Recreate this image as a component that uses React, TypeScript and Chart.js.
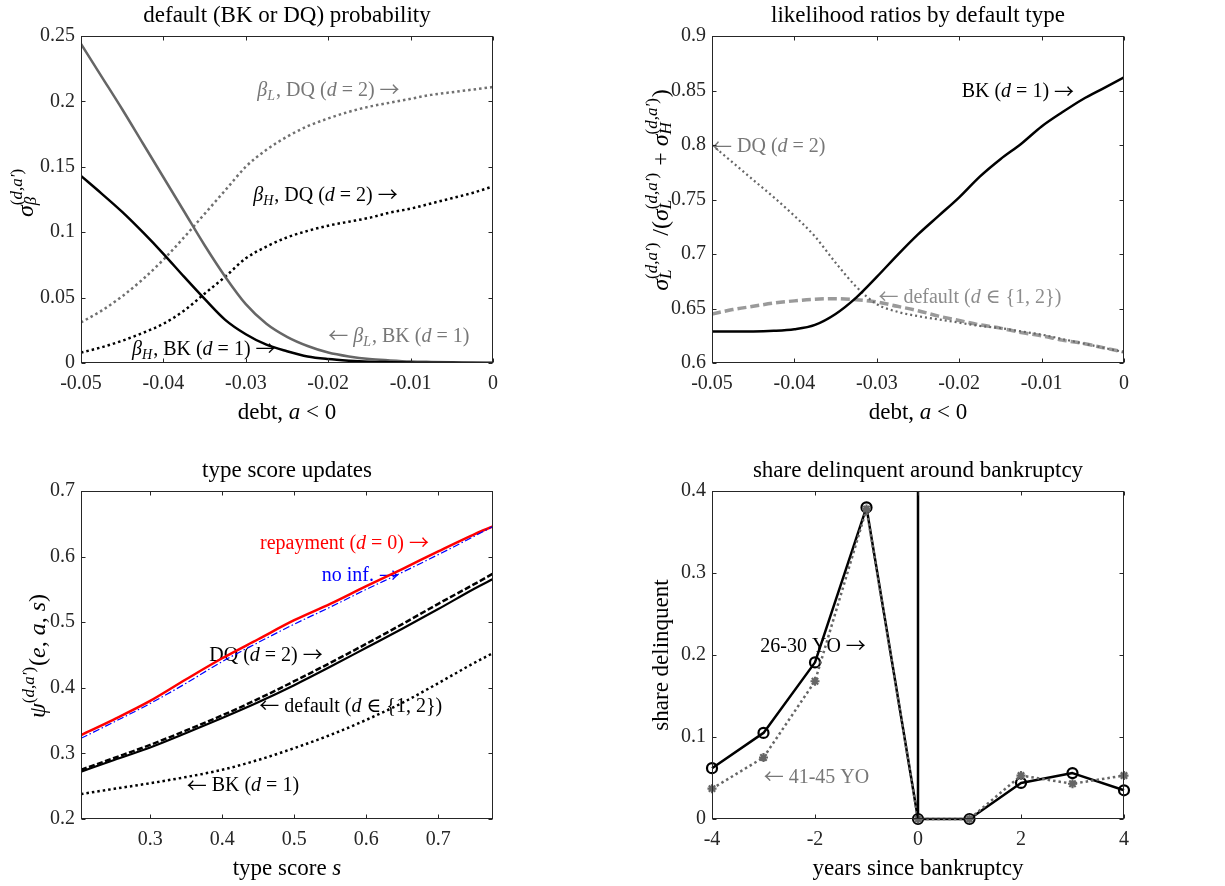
import React, { useEffect, useRef } from "react";
import { Chart, registerables } from "chart.js";
Chart.register(...registerables);

const SERIF = '"Liberation Serif", "DejaVu Serif", serif';
const ARROW_FONT = '"Noto Sans CJK JP", "DejaVu Sans", sans-serif';
const AXIS = "#262626";

// ---------- Panel 1: default probability ----------
const debtX = [-0.05, -0.0475, -0.045, -0.0425, -0.04, -0.0375, -0.035, -0.0325, -0.03, -0.0275, -0.025, -0.0225, -0.02, -0.0175, -0.015, -0.0125, -0.01, -0.0075, -0.005, -0.0025, 0];
const probLowBK = [0.244, 0.219, 0.194, 0.168, 0.142, 0.116, 0.09, 0.066, 0.045, 0.03, 0.02, 0.013, 0.008, 0.005, 0.003, 0.002, 0.0012, 0.0008, 0.0005, 0.0003, 0.0002];
const probHighBK = [0.143, 0.1295, 0.1155, 0.1, 0.0835, 0.066, 0.049, 0.033, 0.022, 0.014, 0.009, 0.005, 0.003, 0.0018, 0.001, 0.0006, 0.0003, 0.0001, 0.0001, 0, 0];
const probLowDQ = [0.031, 0.04, 0.051, 0.064, 0.079, 0.096, 0.114, 0.132, 0.15, 0.163, 0.173, 0.181, 0.187, 0.192, 0.196, 0.199, 0.202, 0.205, 0.207, 0.209, 0.211];
const probHighDQ = [0.008, 0.012, 0.017, 0.023, 0.03, 0.04, 0.053, 0.066, 0.08, 0.089, 0.096, 0.101, 0.105, 0.108, 0.111, 0.115, 0.118, 0.122, 0.126, 0.13, 0.135];
const debtTicks = [-0.05, -0.04, -0.03, -0.02, -0.01, 0];
const debtTickLabels = ["-0.05", "-0.04", "-0.03", "-0.02", "-0.01", "0"];
const probTicks = [0, 0.05, 0.1, 0.15, 0.2, 0.25];
const probTickLabels = ["0", "0.05", "0.1", "0.15", "0.2", "0.25"];

// ---------- Panel 2: likelihood ratios ----------
const ratioBK = [0.629, 0.629, 0.629, 0.6295, 0.631, 0.635, 0.645, 0.66, 0.679, 0.699, 0.718, 0.735, 0.752, 0.771, 0.787, 0.801, 0.817, 0.83, 0.842, 0.852, 0.862];
const ratioDQ = [0.8, 0.784, 0.768, 0.752, 0.735, 0.716, 0.692, 0.67, 0.654, 0.647, 0.643, 0.64, 0.637, 0.634, 0.632, 0.629, 0.626, 0.622, 0.618, 0.614, 0.61];
const ratioDefault = [0.645, 0.649, 0.652, 0.655, 0.657, 0.6585, 0.659, 0.658, 0.656, 0.652, 0.648, 0.643, 0.639, 0.635, 0.632, 0.628, 0.625, 0.621, 0.618, 0.614, 0.61];
const ratioTicks = [0.6, 0.65, 0.7, 0.75, 0.8, 0.85, 0.9];
const ratioTickLabels = ["0.6", "0.65", "0.7", "0.75", "0.8", "0.85", "0.9"];

// ---------- Panel 3: type score updates ----------
const scoreX = [0.204, 0.25, 0.3, 0.35, 0.4, 0.45, 0.5, 0.55, 0.6, 0.65, 0.7, 0.75, 0.776];
const updRepay = [0.328, 0.352, 0.38, 0.413, 0.445, 0.474, 0.503, 0.528, 0.555, 0.581, 0.608, 0.634, 0.646];
const updNoInf = [0.323, 0.348, 0.376, 0.407, 0.44, 0.469, 0.497, 0.523, 0.55, 0.576, 0.603, 0.631, 0.646];
const updDQ = [0.275, 0.293, 0.313, 0.335, 0.358, 0.383, 0.41, 0.438, 0.467, 0.497, 0.528, 0.558, 0.574];
const updDefault = [0.272, 0.29, 0.309, 0.331, 0.354, 0.378, 0.404, 0.432, 0.461, 0.49, 0.52, 0.551, 0.566];
const updBK = [0.238, 0.246, 0.2545, 0.264, 0.275, 0.29, 0.308, 0.328, 0.351, 0.377, 0.407, 0.438, 0.453];
const scoreTicks = [0.3, 0.4, 0.5, 0.6, 0.7];
const scoreTickLabels = ["0.3", "0.4", "0.5", "0.6", "0.7"];
const updTicks = [0.2, 0.3, 0.4, 0.5, 0.6, 0.7];
const updTickLabels = ["0.2", "0.3", "0.4", "0.5", "0.6", "0.7"];

// ---------- Panel 4: share delinquent ----------
const years = [-4, -3, -2, -1, 0, 1, 2, 3, 4];
const delinq2630 = [0.062, 0.105, 0.191, 0.38, 0, 0, 0.044, 0.056, 0.035];
const delinq4145 = [0.037, 0.075, 0.168, 0.378, 0, 0, 0.053, 0.043, 0.053];
const bankruptcyX = [0, 0];
const bankruptcyY = [0, 0.4];
const yearTicks = [-4, -2, 0, 2, 4];
const yearTickLabels = ["-4", "-2", "0", "2", "4"];
const delinqTicks = [0, 0.1, 0.2, 0.3, 0.4];
const delinqTickLabels = ["0", "0.1", "0.2", "0.3", "0.4"];

type Seg = { t: string; i?: boolean; pos?: "sub" | "sup"; arrow?: boolean };

function splitArrows(segs: Seg[]): Seg[] {
  const out: Seg[] = [];
  for (const s of segs) {
    if (s.pos) {
      out.push(s);
      continue;
    }
    const parts = s.t.split(/([←→])/);
    for (const p of parts) {
      if (!p) continue;
      if (p === "←" || p === "→") out.push({ t: p, arrow: true });
      else out.push({ ...s, t: p });
    }
  }
  return out;
}

function drawRich(ctx: CanvasRenderingContext2D, segsIn: Seg[], x: number, y: number, size: number, color: string, align: "left" | "center", subDrop = 0.2) {
  const segs = splitArrows(segsIn);
  const small = Math.round(size * 0.7);
  const font = (s: Seg) => {
    if (s.arrow) return `${Math.round(size * 1.0)}px ${ARROW_FONT}`;
    return `${s.i ? "italic " : ""}${s.pos ? small : size}px ${SERIF}`;
  };
  const items: { s: Seg; x: number; dy: number }[] = [];
  let cursor = 0;
  let inRun = false;
  let subC = 0;
  let supC = 0;
  for (const s of segs) {
    ctx.font = font(s);
    const w = ctx.measureText(s.t).width;
    if (s.pos) {
      if (!inRun) {
        inRun = true;
        subC = cursor;
        supC = cursor;
      }
      if (s.pos === "sub") {
        items.push({ s, x: subC, dy: size * subDrop });
        subC += w;
      } else {
        items.push({ s, x: supC, dy: -size * 0.45 });
        supC += w;
      }
    } else {
      if (inRun) {
        cursor = Math.max(subC, supC) + 1;
        inRun = false;
      }
      items.push({ s, x: cursor, dy: s.arrow ? size * 0.06 : 0 });
      cursor += w;
    }
  }
  if (inRun) cursor = Math.max(subC, supC);
  const off = align === "center" ? -cursor / 2 : 0;
  ctx.fillStyle = color;
  ctx.textAlign = "left";
  ctx.textBaseline = "alphabetic";
  for (const it of items) {
    ctx.font = font(it.s);
    ctx.fillText(it.s.t, x + off + it.x, y + it.dy);
  }
}

type Ann = { x: number; y: number; segs: Seg[]; color: string };

type Spec = {
  left: number;
  top: number;
  W: number;
  H: number;
  area: [number, number, number, number];
  xr: [number, number];
  yr: [number, number];
  xTicks: number[];
  xLabels: string[];
  yTicks: number[];
  yLabels: string[];
  smooth: boolean;
  datasets: any[];
  anns: Ann[];
  title: string;
  xTitle: Seg[];
  yTitle: Seg[];
  yTitleX: number;
  yTitleY: number;
  yTitleSize: number;
};

function xy(xs: number[], ys: number[]) {
  return xs.map((x, i) => ({ x, y: ys[i] }));
}

const dotted = [2.5, 3];

const d = (t: string): Seg => ({ t, i: true });
const n = (t: string): Seg => ({ t });

const specs: Spec[] = [
  {
    left: 0, top: 0, W: 612, H: 443,
    area: [81, 36, 493, 363],
    xr: [-0.05, 0], yr: [0, 0.25],
    xTicks: debtTicks, xLabels: debtTickLabels, yTicks: probTicks, yLabels: probTickLabels,
    smooth: true,
    datasets: [
      { data: xy(debtX, probHighBK), borderColor: "#000", borderWidth: 2.5 },
      { data: xy(debtX, probLowBK), borderColor: "#666666", borderWidth: 2.5 },
      { data: xy(debtX, probHighDQ), borderColor: "#000", borderWidth: 2.5, borderDash: dotted },
      { data: xy(debtX, probLowDQ), borderColor: "#707070", borderWidth: 2.5, borderDash: dotted },
    ],
    anns: [
      { x: -0.0286, y: 0.2045, color: "#777777", segs: [d("β"), { t: "L", i: true, pos: "sub" }, n(", DQ ("), d("d"), n(" = 2) →")] },
      { x: -0.0291, y: 0.1242, color: "#000", segs: [d("β"), { t: "H", i: true, pos: "sub" }, n(", DQ ("), d("d"), n(" = 2) →")] },
      { x: -0.02, y: 0.0162, color: "#777777", segs: [n("← "), d("β"), { t: "L", i: true, pos: "sub" }, n(", BK ("), d("d"), n(" = 1)")] },
      { x: -0.0438, y: 0.006, color: "#000", segs: [d("β"), { t: "H", i: true, pos: "sub" }, n(", BK ("), d("d"), n(" = 1) →")] },
    ],
    title: "default (BK or DQ) probability",
    xTitle: [n("debt, "), d("a"), n(" < 0")],
    yTitle: [d("σ"), { t: "β", i: true, pos: "sub" }, { t: "(", pos: "sup" }, { t: "d,a′", i: true, pos: "sup" }, { t: ")", pos: "sup" }],
    yTitleX: 33, yTitleY: 193, yTitleSize: 24,
  },
  {
    left: 612, top: 0, W: 613, H: 443,
    area: [100, 36, 512, 363],
    xr: [-0.05, 0], yr: [0.6, 0.9],
    xTicks: debtTicks, xLabels: debtTickLabels, yTicks: ratioTicks, yLabels: ratioTickLabels,
    smooth: true,
    datasets: [
      { data: xy(debtX, ratioBK), borderColor: "#000", borderWidth: 2.5 },
      { data: xy(debtX, ratioDQ), borderColor: "#666666", borderWidth: 2.2, borderDash: [2, 3] },
      { data: xy(debtX, ratioDefault), borderColor: "#9a9a9a", borderWidth: 3.5, borderDash: [9, 4] },
    ],
    anns: [
      { x: -0.0197, y: 0.8436, color: "#000", segs: [n("BK ("), d("d"), n(" = 1) →")] },
      { x: -0.05, y: 0.7933, color: "#777777", segs: [n("← DQ ("), d("d"), n(" = 2)")] },
      { x: -0.0298, y: 0.6549, color: "#8c8c8c", segs: [n("← default ("), d("d"), n(" ∈ {1, 2})")] },
    ],
    title: "likelihood ratios by default type",
    xTitle: [n("debt, "), d("a"), n(" < 0")],
    yTitle: [
      d("σ"), { t: "L", i: true, pos: "sub" }, { t: "(", pos: "sup" }, { t: "d,a′", i: true, pos: "sup" }, { t: ")", pos: "sup" },
      n(" /("),
      d("σ"), { t: "L", i: true, pos: "sub" }, { t: "(", pos: "sup" }, { t: "d,a′", i: true, pos: "sup" }, { t: ")", pos: "sup" },
      n(" + "),
      d("σ"), { t: "H", i: true, pos: "sub" }, { t: "(", pos: "sup" }, { t: "d,a′", i: true, pos: "sup" }, { t: ")", pos: "sup" },
      n(")"),
    ],
    yTitleX: 56, yTitleY: 190, yTitleSize: 24,
  },
  {
    left: 0, top: 443, W: 612, H: 443,
    area: [81, 48, 493, 376],
    xr: [0.204, 0.776], yr: [0.2, 0.7],
    xTicks: scoreTicks, xLabels: scoreTickLabels, yTicks: updTicks, yLabels: updTickLabels,
    smooth: true,
    datasets: [
      { data: xy(scoreX, updNoInf), borderColor: "#0000ff", borderWidth: 1.2, borderDash: [7, 2.5, 1.5, 2.5] },
      { data: xy(scoreX, updRepay), borderColor: "#ff0000", borderWidth: 2.5 },
      { data: xy(scoreX, updDQ), borderColor: "#000", borderWidth: 2.5, borderDash: [6, 2.5] },
      { data: xy(scoreX, updDefault), borderColor: "#000", borderWidth: 2.2 },
      { data: xy(scoreX, updBK), borderColor: "#000", borderWidth: 2.5, borderDash: dotted },
    ],
    anns: [
      { x: 0.4525, y: 0.6116, color: "#ff0000", segs: [n("repayment ("), d("d"), n(" = 0) →")] },
      { x: 0.5382, y: 0.5623, color: "#0000ff", segs: [n("no inf. →")] },
      { x: 0.3821, y: 0.4404, color: "#000", segs: [n("DQ ("), d("d"), n(" = 2) →")] },
      { x: 0.4516, y: 0.3627, color: "#000", segs: [n("← default ("), d("d"), n(" ∈ {1, 2})")] },
      { x: 0.3507, y: 0.2422, color: "#000", segs: [n("← BK ("), d("d"), n(" = 1)")] },
    ],
    title: "type score updates",
    xTitle: [n("type score "), d("s")],
    yTitle: [d("ψ"), { t: "(", pos: "sup" }, { t: "d,a′", i: true, pos: "sup" }, { t: ")", pos: "sup" }, n("("), d("e"), n(", "), d("a"), n(", "), d("s"), n(")")],
    yTitleX: 45, yTitleY: 213, yTitleSize: 24,
  },
  {
    left: 612, top: 443, W: 613, H: 443,
    area: [100, 48, 512, 376],
    xr: [-4, 4], yr: [0, 0.4],
    xTicks: yearTicks, xLabels: yearTickLabels, yTicks: delinqTicks, yLabels: delinqTickLabels,
    smooth: false,
    datasets: [
      { data: xy(bankruptcyX, bankruptcyY), borderColor: "#000", borderWidth: 2.5, clip: false },
      {
        data: xy(years, delinq4145), borderColor: "#666666", borderWidth: 2.5, borderDash: dotted, clip: false,
        pointStyle: "star", pointRadius: 4.5, pointBorderWidth: 2.2, pointBorderColor: "#666666", pointBackgroundColor: "#666666",
      },
      {
        data: xy(years, delinq2630), borderColor: "#000", borderWidth: 2.5, clip: false,
        pointStyle: "circle", pointRadius: 5, pointBorderWidth: 2.2, pointBorderColor: "#000", pointBackgroundColor: "rgba(0,0,0,0)",
      },
    ],
    anns: [
      { x: -3.062, y: 0.2033, color: "#000", segs: [n("26-30 YO →")] },
      { x: -2.996, y: 0.0439, color: "#777777", segs: [n("← 41-45 YO")] },
    ],
    title: "share delinquent around bankruptcy",
    xTitle: [n("years since bankruptcy")],
    yTitle: [n("share delinquent")],
    yTitleX: 56, yTitleY: 212, yTitleSize: 23,
  },
];

function makePlugin(spec: Spec) {
  return {
    id: "panelDecor",
    beforeDatasetsDraw(chart: any) {
      const ctx: CanvasRenderingContext2D = chart.ctx;
      const xs = chart.scales.x;
      const ys = chart.scales.y;
      ctx.save();
      for (const a of spec.anns) {
        drawRich(ctx, a.segs, xs.getPixelForValue(a.x), ys.getPixelForValue(a.y), 20, a.color, "left");
      }
      ctx.restore();
    },
    afterDraw(chart: any) {
      const ctx: CanvasRenderingContext2D = chart.ctx;
      const { left, right, top, bottom } = chart.chartArea;
      const xs = chart.scales.x;
      const ys = chart.scales.y;
      ctx.save();
      ctx.strokeStyle = AXIS;
      ctx.lineWidth = 1;
      ctx.setLineDash([]);
      const L = Math.round(left) + 0.5;
      const R = Math.round(right) - 0.5;
      const T = Math.round(top) + 0.5;
      const B = Math.round(bottom) - 0.5;
      ctx.strokeRect(L, T, R - L, B - T);
      const tl = 4;
      ctx.beginPath();
      for (const t of xs.ticks) {
        const p = Math.round(xs.getPixelForValue(t.value)) + 0.5;
        ctx.moveTo(p, B);
        ctx.lineTo(p, B - tl);
        ctx.moveTo(p, T);
        ctx.lineTo(p, T + tl);
      }
      for (const t of ys.ticks) {
        const p = Math.round(ys.getPixelForValue(t.value)) + 0.5;
        ctx.moveTo(L, p);
        ctx.lineTo(L + tl, p);
        ctx.moveTo(R, p);
        ctx.lineTo(R - tl, p);
      }
      ctx.stroke();
      const cx = (left + right) / 2;
      drawRich(ctx, [{ t: spec.title }], cx, top - 14, 23, "#000", "center");
      drawRich(ctx, spec.xTitle, cx, bottom + 56, 23, "#000", "center");
      ctx.translate(spec.yTitleX, spec.yTitleY);
      ctx.rotate(-Math.PI / 2);
      drawRich(ctx, spec.yTitle, 0, 0, spec.yTitleSize, "#000", "center", 0.12);
      ctx.restore();
    },
  };
}

function buildConfig(spec: Spec): any {
  const [L, T, R, B] = spec.area;
  const tickFont = { family: SERIF, size: 20 };
  const labelFor = (ticks: number[], labels: string[]) => (v: number) => {
    const i = ticks.findIndex((t) => Math.abs(t - v) < 1e-9);
    return i >= 0 ? labels[i] : "";
  };
  return {
    type: "line",
    data: {
      datasets: spec.datasets.map((ds) => ({
        pointRadius: 0,
        fill: false,
        tension: 0,
        cubicInterpolationMode: spec.smooth ? "monotone" : "default",
        borderCapStyle: "butt",
        borderJoinStyle: "round",
        ...ds,
      })),
    },
    options: {
      animation: false,
      responsive: false,
      maintainAspectRatio: false,
      devicePixelRatio: 1,
      events: [],
      layout: { padding: { top: T, right: spec.W - R, bottom: 0, left: 0 } },
      plugins: { legend: { display: false }, tooltip: { enabled: false }, title: { display: false } },
      scales: {
        x: {
          type: "linear",
          min: spec.xr[0],
          max: spec.xr[1],
          grid: { display: false, drawTicks: false },
          border: { display: false },
          ticks: { autoSkip: false, maxRotation: 0, padding: 9, font: tickFont, color: AXIS, callback: labelFor(spec.xTicks, spec.xLabels) },
          afterBuildTicks: (s: any) => {
            s.ticks = spec.xTicks.map((v) => ({ value: v }));
          },
          afterFit: (s: any) => {
            s.height = spec.H - B;
          },
        },
        y: {
          type: "linear",
          min: spec.yr[0],
          max: spec.yr[1],
          grid: { display: false, drawTicks: false },
          border: { display: false },
          ticks: { autoSkip: false, padding: 6, font: tickFont, color: AXIS, callback: labelFor(spec.yTicks, spec.yLabels) },
          afterBuildTicks: (s: any) => {
            s.ticks = spec.yTicks.map((v) => ({ value: v }));
          },
          afterFit: (s: any) => {
            s.width = L;
          },
        },
      },
    },
    plugins: [makePlugin(spec)],
  };
}

export default function App() {
  const refs = useRef<(HTMLCanvasElement | null)[]>([]);
  useEffect(() => {
    const charts = specs.map((spec, i) => new Chart(refs.current[i] as HTMLCanvasElement, buildConfig(spec)));
    return () => charts.forEach((c) => c.destroy());
  }, []);
  return (
    <div style={{ position: "absolute", left: 0, top: 0, width: 1225, height: 886, background: "#fff" }}>
      {specs.map((s, i) => (
        <canvas
          key={i}
          ref={(el) => {
            refs.current[i] = el;
          }}
          width={s.W}
          height={s.H}
          style={{ position: "absolute", left: s.left, top: s.top, width: s.W, height: s.H }}
        />
      ))}
    </div>
  );
}
